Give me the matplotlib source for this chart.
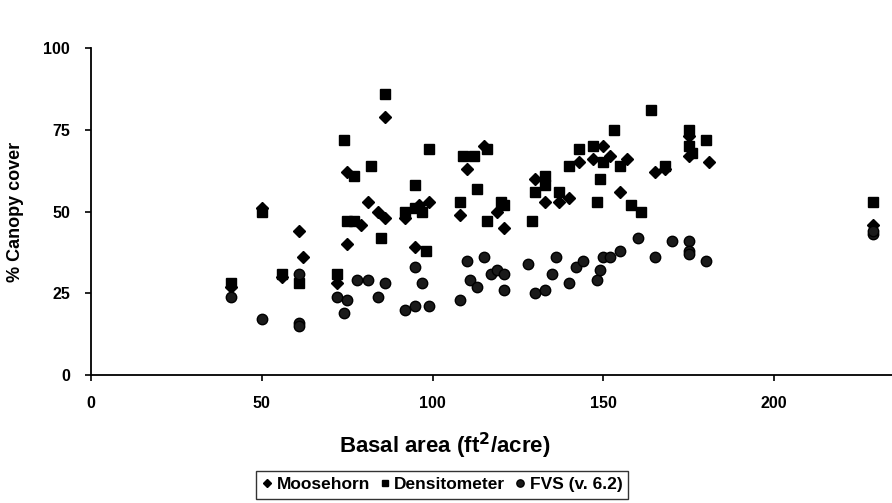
import matplotlib
matplotlib.use("Agg")
import matplotlib.pyplot as plt

plt.rcParams['font.family'] = ['Liberation Sans', 'DejaVu Sans']

# Moosehorn (diamonds)
moose_x = [41, 50, 56, 61, 62, 72, 75, 75, 79, 81, 84, 86, 86, 92, 95, 96, 99, 108,
           110, 115, 119, 121, 130, 133, 137, 140, 143, 147, 150, 152, 155, 157,
           165, 168, 175, 175, 181, 229]
moose_y = [27, 51, 30, 44, 36, 28, 40, 62, 46, 53, 50, 79, 48, 48, 39, 52, 53, 49,
           63, 70, 50, 45, 60, 53, 53, 54, 65, 66, 70, 67, 56, 66,
           62, 63, 73, 67, 65, 46]

# Densitometer (squares)
dens_x = [41, 50, 56, 61, 72, 74, 75, 77, 77, 82, 85, 86, 92, 95, 95, 97, 98, 99,
          108, 109, 112, 113, 116, 116, 120, 121, 129, 130, 133, 133, 137, 140,
          143, 147, 148, 149, 150, 153, 155, 158, 161, 164, 168, 175, 175, 176,
          180, 229]
dens_y = [28, 50, 31, 28, 31, 72, 47, 47, 61, 64, 42, 86, 50, 51, 58, 50, 38, 69,
          53, 67, 67, 57, 47, 69, 53, 52, 47, 56, 58, 61, 56, 64,
          69, 70, 53, 60, 65, 75, 64, 52, 50, 81, 64, 75, 70, 68,
          72, 53]

# FVS (v. 6.2) (circles)
fvs_x = [41, 50, 61, 61, 61, 72, 74, 75, 78, 81, 84, 86, 92, 95, 95, 97, 99, 108,
         110, 111, 113, 115, 117, 119, 121, 121, 128, 130, 133, 135, 136, 140,
         142, 144, 148, 149, 150, 152, 155, 160, 165, 170, 175, 175, 175, 180,
         229, 229]
fvs_y = [24, 17, 16, 15, 31, 24, 19, 23, 29, 29, 24, 28, 20, 21, 33, 28, 21, 23,
         35, 29, 27, 36, 31, 32, 31, 26, 34, 25, 26, 31, 36, 28,
         33, 35, 29, 32, 36, 36, 38, 42, 36, 41, 41, 38, 37, 35,
         43, 44]

fig = plt.figure(figsize=(8.92, 5.03), dpi=100)
ax = fig.add_axes([0.102, 0.2545, 0.898, 0.65])

ax.plot(moose_x, moose_y, linestyle='none', marker='D', markersize=6,
        color='black', label='Moosehorn')
ax.plot(dens_x, dens_y, linestyle='none', marker='s', markersize=7,
        color='black', label='Densitometer')
ax.plot(fvs_x, fvs_y, linestyle='none', marker='o', markersize=7.5,
        markerfacecolor='#1a1a1a', markeredgecolor='black', label='FVS (v. 6.2)')

ax.set_xlim(0, 234.5)
ax.set_ylim(0, 100)
ax.set_xticks([0, 50, 100, 150, 200])
ax.set_yticks([0, 25, 50, 75, 100])
ax.spines['top'].set_visible(False)
ax.spines['right'].set_visible(False)
ax.spines['left'].set_linewidth(1.3)
ax.spines['bottom'].set_linewidth(1.3)
ax.tick_params(axis='both', direction='out', length=4, width=1.2,
               labelsize=11.5, pad=11)
for lab in ax.get_xticklabels() + ax.get_yticklabels():
    lab.set_fontweight('bold')

ax.set_xlabel('Basal area (ft$^{\\mathbf{2}}$/acre)', fontsize=16,
              fontweight='bold')
ax.xaxis.set_label_coords(0.442, -0.17)
ax.set_ylabel('% Canopy cover', fontsize=13, fontweight='bold', labelpad=14)

leg = fig.legend(loc='center', bbox_to_anchor=(0.496, 0.036), ncol=3,
                 frameon=True, fancybox=False, edgecolor='black',
                 prop={'size': 12.5, 'weight': 'bold'}, handlelength=0.5,
                 handletextpad=0.3, columnspacing=0.6, markerscale=0.7,
                 borderpad=0.35)
leg.get_frame().set_linewidth(1.0)

fig.savefig('out.png', dpi=100, facecolor='white')
